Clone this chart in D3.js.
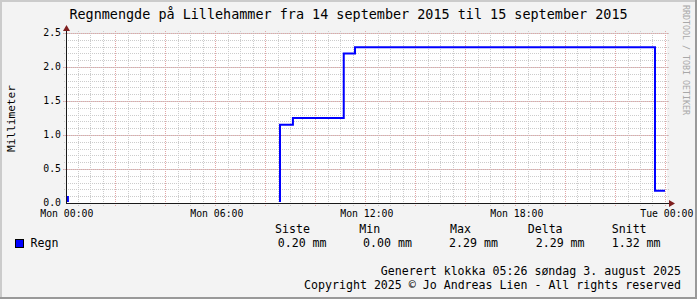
<!DOCTYPE html>
<html><head><meta charset="utf-8">
<script src="https://cdn.jsdelivr.net/npm/d3@7"></script>
<style>body{margin:0;background:#f3f3f3}svg{display:block}</style>
</head><body>
<script>
const title = "Regnmengde på Lillehammer fra 14 september 2015 til 15 september 2015";
const yLabel = "Millimeter";
const watermark = "RRDTOOL / TOBI OETIKER";
const times = ["00:04","00:07","08:36","09:07","11:09","11:36","23:36","24:00"];
const values = [0.09, 0, 1.15, 1.25, 2.2, 2.29, 0.18, 0.18];
const xTickTimes = ["00:00","06:00","12:00","18:00","24:00"];
const xTickLabels = ["Mon 00:00","Mon 06:00","Mon 12:00","Mon 18:00","Tue 00:00"];
const yTicks = [0, 0.5, 1, 1.5, 2, 2.5];
const yTickLabels = ["0.0","0.5","1.0","1.5","2.0","2.5"];
const seriesName = "Regn";
const statNames = ["Siste","Min","Max","Delta","Snitt"];
const statValues = ["0.20 mm","0.00 mm","2.29 mm","2.29 mm","1.32 mm"];
const footer = ["Generert klokka 05:26 søndag 3. august 2025",
                "Copyright 2025 © Jo Andreas Lien - All rights reserved"];

const W = 697, H = 299;
const FONT = "'DejaVu Sans Mono', monospace";
const day0 = Date.UTC(2015, 8, 14, 0, 0);
const toDate = s => { const [h, m] = s.split(":").map(Number); return new Date(day0 + (h * 60 + m) * 60000); };

const x = d3.scaleUtc().domain([new Date(day0), new Date(day0 + 864e5)]).range([65, 665]);
const y = d3.scaleLinear().domain([0, 2.5]).range([203, 33]);

const svg = d3.select("body").append("svg").attr("width", W).attr("height", H);

// background + borders
svg.append("rect").attr("width", W).attr("height", H).attr("fill", "#f3f3f3");
svg.append("rect").attr("x", 0).attr("y", 0).attr("width", W).attr("height", 2).attr("fill", "#cbcbcb");
svg.append("rect").attr("x", 0).attr("y", 0).attr("width", 2).attr("height", H).attr("fill", "#cbcbcb");
svg.append("rect").attr("x", 0).attr("y", H - 2).attr("width", W).attr("height", 2).attr("fill", "#999");
svg.append("rect").attr("x", W - 2).attr("y", 0).attr("width", 2).attr("height", H).attr("fill", "#999");

// canvas
svg.append("rect").attr("x", 66).attr("y", 33).attr("width", 601).attr("height", 170).attr("fill", "#ffffff");

const gridG = svg.append("g").attr("shape-rendering", "crispEdges");
const xMinor = d3.utcMinute.every(30).range(new Date(day0 + 1), new Date(day0 + 864e5 + 1));
const xMajor = d3.utcHour.every(2).range(new Date(day0 + 1), new Date(day0 + 864e5 + 1));
const yMinor = d3.range(1, 26).map(i => i / 10);
const yMajor = yTicks.filter(v => v > 0);

// minor grid
gridG.selectAll(".vmin").data(xMinor).join("line")
  .attr("x1", d => Math.round(x(d)) + 0.5).attr("x2", d => Math.round(x(d)) + 0.5)
  .attr("y1", 31).attr("y2", 206)
  .attr("stroke", "#cccccc").attr("stroke-dasharray", "1,1");
gridG.selectAll(".hmin").data(yMinor).join("line")
  .attr("y1", d => Math.round(y(d)) + 0.5).attr("y2", d => Math.round(y(d)) + 0.5)
  .attr("x1", 64).attr("x2", 669)
  .attr("stroke", "#cccccc").attr("stroke-dasharray", "1,1");
// major grid
gridG.selectAll(".vmaj").data(xMajor).join("line")
  .attr("x1", d => Math.round(x(d)) + 0.5).attr("x2", d => Math.round(x(d)) + 0.5)
  .attr("y1", 31).attr("y2", 206)
  .attr("stroke", "#e2a6a6").attr("stroke-dasharray", "1,1");
gridG.selectAll(".hmaj").data(yMajor).join("line")
  .attr("y1", d => Math.round(y(d)) + 0.5).attr("y2", d => Math.round(y(d)) + 0.5)
  .attr("x1", 63).attr("x2", 669)
  .attr("stroke", "#e2a6a6").attr("stroke-dasharray", "1,1");

// data line
svg.append("clipPath").attr("id", "clip").append("rect")
  .attr("x", 66).attr("y", 0).attr("width", 602).attr("height", 202);
const data = times.map((t, i) => ({ t: toDate(t), v: values[i] }));
const line = d3.line().x(d => x(d.t)).y(d => y(d.v)).curve(d3.curveStepAfter);
svg.append("path").datum(data).attr("d", line).attr("clip-path", "url(#clip)")
  .attr("fill", "none").attr("stroke", "#0000ff").attr("stroke-width", 2)
  .attr("stroke-linejoin", "miter").attr("stroke-linecap", "butt");

// axes
const axG = svg.append("g").attr("shape-rendering", "crispEdges");
axG.append("line").attr("x1", 66).attr("x2", 670).attr("y1", 203.5).attr("y2", 203.5).attr("stroke", "#1a1a1a");
axG.append("line").attr("x1", 66.5).attr("x2", 66.5).attr("y1", 29).attr("y2", 204).attr("stroke", "#1a1a1a");
svg.append("path").attr("d", "M669,200L669,207L675,203.5Z").attr("fill", "#7f1f1f");
svg.append("path").attr("d", "M63,31L70,31L66.5,25Z").attr("fill", "#7f1f1f");

// tick labels
svg.selectAll(".xl").data(xTickTimes).join("text")
  .attr("x", (d) => x(toDate(d)) + 1.8).attr("y", 216.5)
  .attr("text-anchor", "middle").attr("font-family", FONT).attr("font-size", 9.8)
  .attr("fill", "#000").text((d, i) => xTickLabels[i]);
svg.selectAll(".yl").data(yTicks).join("text")
  .attr("x", 61).attr("y", d => y(d) + 3.4)
  .attr("text-anchor", "end").attr("font-family", FONT).attr("font-size", 9.8)
  .attr("fill", "#000").text((d, i) => yTickLabels[i]);

// title
svg.append("text").attr("x", 348.5).attr("y", 18.5).attr("text-anchor", "middle")
  .attr("font-family", FONT).attr("font-size", 13.45).attr("fill", "#000").text(title);
// y label
svg.append("text").attr("transform", "translate(15,118.5) rotate(-90)")
  .attr("text-anchor", "middle").attr("font-family", FONT).attr("font-size", 11.1)
  .attr("fill", "#000").text(yLabel);
// watermark
svg.append("text").attr("transform", "translate(683,5) rotate(90)")
  .attr("text-anchor", "start").attr("font-family", FONT).attr("font-size", 8.3)
  .attr("fill", "#a8a8a8").text(watermark);

// legend
svg.append("rect").attr("x", 15.5).attr("y", 239.5).attr("width", 8).attr("height", 8)
  .attr("fill", "#0000ff").attr("stroke", "#000").attr("shape-rendering", "crispEdges");
svg.append("text").attr("x", 30.5).attr("y", 247).attr("font-family", FONT).attr("font-size", 11.6)
  .attr("fill", "#000").text(seriesName);
const hdrX = [275, 359.3, 450, 527.7, 611.7];
const valX = [277.7, 363, 449, 535.7, 611.7];
svg.selectAll(".sh").data(statNames).join("text")
  .attr("x", (d, i) => hdrX[i]).attr("y", 233).attr("font-family", FONT).attr("font-size", 11.6)
  .attr("fill", "#000").text(d => d);
svg.selectAll(".sv").data(statValues).join("text")
  .attr("x", (d, i) => valX[i]).attr("y", 247).attr("font-family", FONT).attr("font-size", 11.6)
  .attr("fill", "#000").text(d => d);

// footer
svg.selectAll(".ft").data(footer).join("text")
  .attr("x", 681).attr("y", (d, i) => 275 + i * 14.2).attr("text-anchor", "end")
  .attr("font-family", FONT).attr("font-size", 11.6).attr("fill", "#000").text(d => d);
</script>
</body></html>
